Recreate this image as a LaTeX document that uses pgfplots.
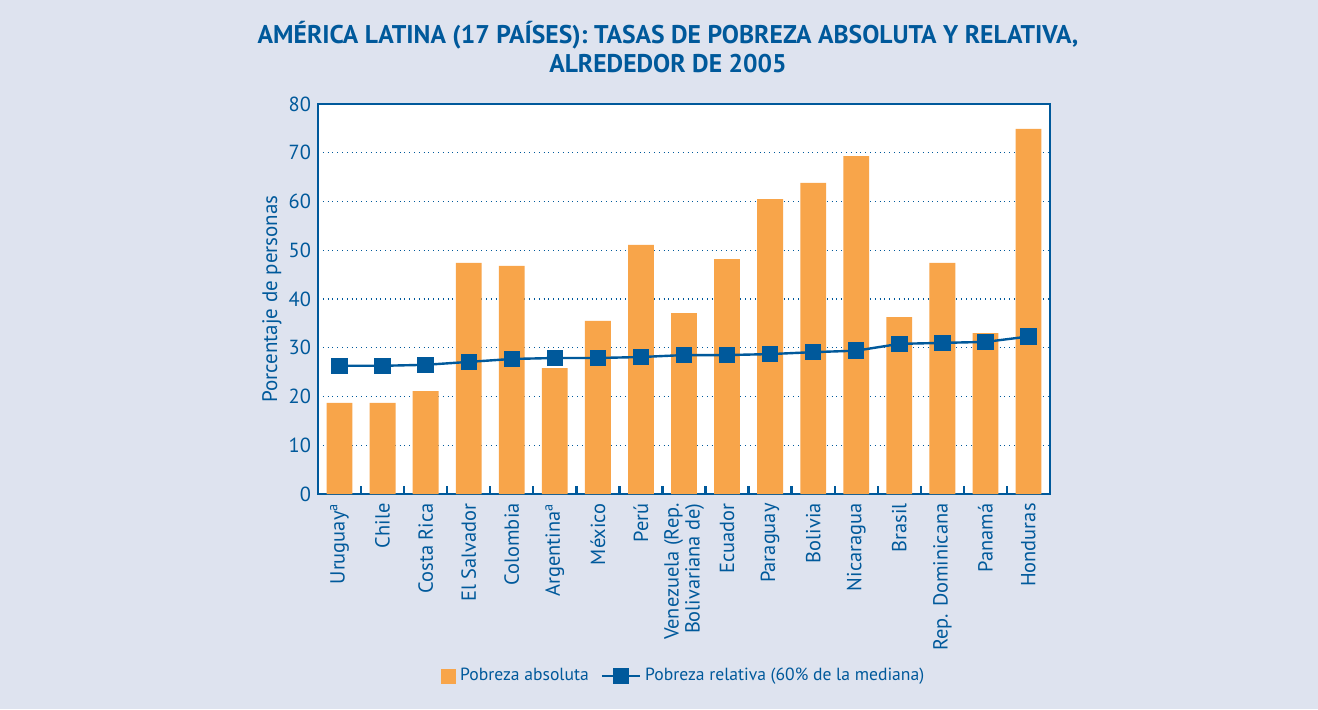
\documentclass[border=0pt]{standalone}
\usepackage{pgfplots}
\pgfplotsset{compat=1.18}
\usepackage{fontspec}
\setmainfont{PT Sans}
\definecolor{cblue}{HTML}{00599B}
\definecolor{corange}{HTML}{F8A54A}
\definecolor{cbg}{HTML}{DEE3EF}
\begin{document}
\begin{tikzpicture}
\fill[cbg] (0,0) rectangle (659pt,354.5pt);
\node[align=center, font=\bfseries\fontsize{12.8}{14.5}\selectfont, text=cblue] at (334pt,331pt) {AMÉRICA LATINA (17 PAÍSES): TASAS DE POBREZA ABSOLUTA Y RELATIVA,\\ALREDEDOR DE 2005};
\begin{axis}[
 at={(159pt,107.5pt)}, anchor=south west,
 width=366pt, height=195pt, scale only axis,
 xmin=-0.5, xmax=16.5, ymin=0, ymax=80,
 axis background/.style={fill=white},
 axis line style={cblue, line width=1.4pt},
 ytick={0,10,...,80},
 ymajorgrids,
 grid style={cblue, dotted, line width=0.7pt},
 ytick style={draw=none},
 xtick={0,...,16},
 major x tick style={draw=none},
 minor xtick={0.5,1.5,...,15.5},
 minor x tick style={cblue, line width=1.2pt},
 minor tick length=4pt,
 tick align=inside,
 tick pos=left,
 xticklabels={Uruguay\textsuperscript{a},Chile,Costa Rica,El Salvador,Colombia,Argentina\textsuperscript{a},México,Perú,{Venezuela (Rep.\\Bolivariana de)},Ecuador,Paraguay,Bolivia,Nicaragua,Brasil,Rep. Dominicana,Panamá,Honduras},
 xticklabel style={rotate=90, anchor=east, align=right, font=\fontsize{10.2}{10.5}\selectfont, text=cblue},
 xticklabel shift=3.5pt,
 x tick label style={inner sep=1pt},
 yticklabel style={font=\fontsize{10.2}{12}\selectfont, text=cblue},
 /pgf/number format/assume math mode=true,
 ylabel={Porcentaje de personas},
 every axis y label/.style={at={(axis description cs:-0.063,0.5)}, rotate=90, anchor=center, font=\fontsize{10.5}{12}\selectfont, text=cblue},
 legend columns=2,
 legend style={at={(axis description cs:0.501,-0.467)}, anchor=center, draw=none, fill=none, font=\fontsize{8.8}{11}\selectfont, text=cblue, /tikz/every even column/.append style={column sep=4pt}},
]
\addplot[ybar, bar width=0.6, fill=corange, draw=none, area legend,
 legend image code/.code={\fill[corange] (0pt,-3.75pt) rectangle (7.5pt,3.75pt);}] coordinates {
(0,18.7) (1,18.7) (2,21.1) (3,47.4) (4,46.8) (5,25.8) (6,35.5) (7,51.1) (8,37.1) (9,48.2) (10,60.5) (11,63.8) (12,69.3) (13,36.3) (14,47.4) (15,33.0) (16,74.9)
};
\addlegendentry{Pobreza absoluta}
\addplot[cblue, line width=1.2pt, mark=square*, mark size=3.5pt, mark options={fill=cblue, draw=cblue},
 legend image code/.code={\draw[line width=1.2pt] (0pt,0pt) -- (19pt,0pt); \fill[cblue] (6pt,-3.5pt) rectangle (13pt,3.5pt);}] coordinates {
(0,26.3) (1,26.3) (2,26.5) (3,27.1) (4,27.7) (5,27.9) (6,27.9) (7,28.1) (8,28.5) (9,28.5) (10,28.7) (11,29.1) (12,29.4) (13,30.8) (14,31.0) (15,31.2) (16,32.3)
};
\addlegendentry{Pobreza relativa (60\% de la mediana)}
\end{axis}
\pgfresetboundingbox
\path (0,0) rectangle (659pt,354.5pt);
\end{tikzpicture}
\end{document}
